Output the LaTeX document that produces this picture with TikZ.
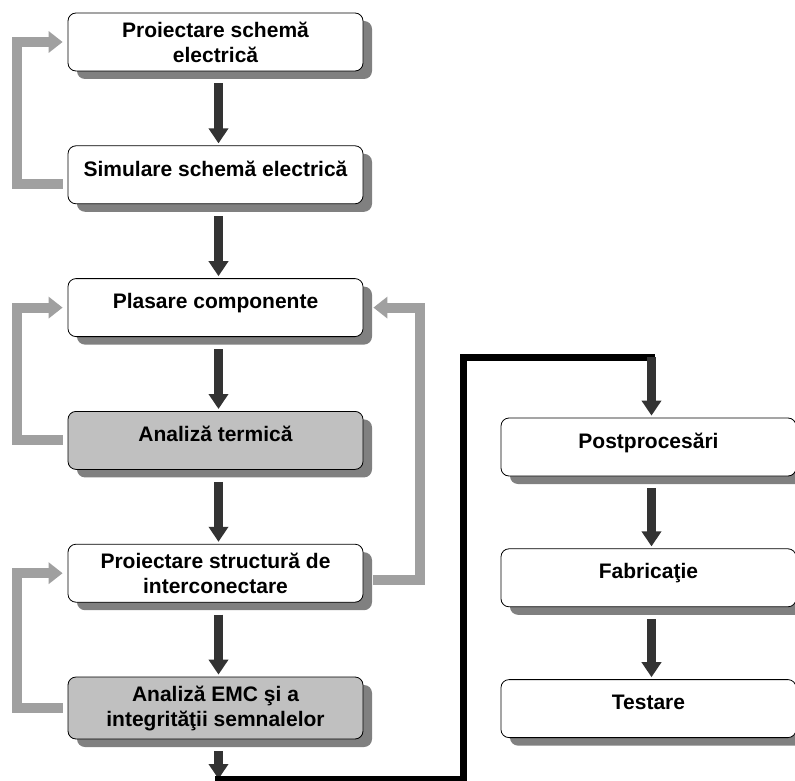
\documentclass[tikz,border=0pt]{standalone}
\usepackage{fontspec}
\setmainfont{Liberation Sans}
\usetikzlibrary{shapes.geometric, arrows.meta, positioning, shadows}
\definecolor{arrowdark}{RGB}{51,51,51}
\definecolor{loopgray}{RGB}{160,160,160}
\definecolor{checkfill}{RGB}{192,192,192}
\tikzstyle{stage} = [
	rectangle,
	rounded corners=8pt,
	minimum width=295pt,
	minimum height=58pt,
	align=center,
	draw=black,
	line width=0.8pt,
	fill=white,
	font=\fontsize{21}{25}\selectfont\bfseries,
	drop shadow={shadow xshift=9pt, shadow yshift=-8pt, fill=black!50, opacity=1}
]
\tikzstyle{analysis} = [stage, fill=checkfill]
\tikzstyle{oneline} = [text depth=13pt]
\tikzstyle{arrow} = [arrowdark, line width=9pt, shorten <=12pt, shorten >=2pt, -{Triangle[width=19pt,length=15pt]}]
\tikzstyle{feedback} = [loopgray, line width=10pt, line join=miter, shorten <=5pt, shorten >=5pt, -{Triangle[width=21pt,length=14pt]}]
\tikzstyle{link} = [black, line width=7pt, line join=miter, line cap=rect]

\begin{document}
\begin{tikzpicture}[x=1pt, y=1pt, node distance=74pt]

		\useasboundingbox (0,0) rectangle (795,-781);

		\node (schematic) [stage] at (215.5,-42) {Proiectare schemă\\electrică};
		\node (simulation) [stage, oneline, below=of schematic] {Simulare schemă electrică};
		\node (placement) [stage, oneline, below=of simulation] {Plasare componente};
		\node (thermal) [analysis, oneline, below=of placement] {Analiză termică};
		\node (routing) [stage, below=of thermal] {Proiectare structură de\\interconectare};
		\node (emc) [analysis, below=of routing, minimum height=62pt] {Analiză EMC şi a\\integrităţii semnalelor};

		\node (postprocess) [stage, oneline] at (648.5,-447) {Postprocesări};
		\node (fabrication) [stage, oneline, below=72pt of postprocess] {Fabricaţie};
		\node (testing) [stage, oneline, below=72pt of fabrication] {Testare};

		\coordinate (emcout) at ([xshift=3pt]emc.south);
		\coordinate (postin) at ([xshift=3pt]postprocess.north);
		\coordinate (linkcorner) at (463,-779);
		\coordinate (linktop) at (463,-357);

		\draw [arrow] ([xshift=3pt]schematic.south) -- ([xshift=3pt]simulation.north);
		\draw [arrow] ([xshift=3pt]simulation.south) -- ([xshift=3pt]placement.north);
		\draw [arrow] ([xshift=3pt]placement.south) -- ([xshift=3pt]thermal.north);
		\draw [arrow] ([xshift=3pt]thermal.south) -- ([xshift=3pt]routing.north);
		\draw [arrow] ([xshift=3pt]routing.south) -- ([xshift=3pt]emc.north);

		\draw [feedback] ([yshift=-9pt]simulation.west) -- ++(-51,0) |- (schematic.west);
		\draw [feedback] (thermal.west) -- ++(-51,0) |- (placement.west);
		\draw [feedback] (emc.west) -- ++(-51,0) |- (routing.west);
		\draw [feedback, shorten <=10pt, shorten >=10pt] ([yshift=-7pt]routing.east) -- ++(57,0) |- (placement.east);

		\draw [arrow, shorten >=0pt] (emcout) -- (emcout |- linkcorner);
		\draw [link] (emcout |- linkcorner) -- (linkcorner) -- (linktop) -- (postin |- linktop);
		\draw [arrow, shorten <=0pt] (postin |- linktop) -- (postin);

		\draw [arrow] ([xshift=3pt]postprocess.south) -- ([xshift=3pt]fabrication.north);
		\draw [arrow] ([xshift=3pt]fabrication.south) -- ([xshift=3pt]testing.north);

	\end{tikzpicture}
\end{document}
